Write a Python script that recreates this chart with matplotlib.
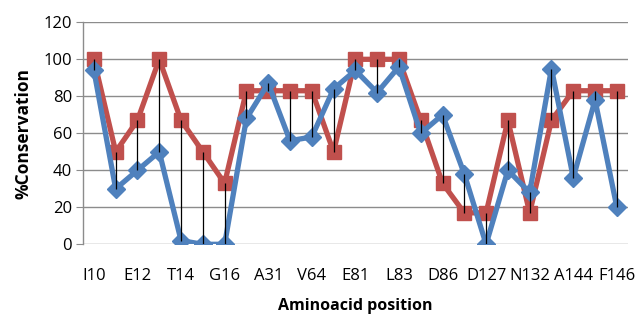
import matplotlib
matplotlib.use("Agg")
import matplotlib.pyplot as plt
import numpy as np

tick_labels = ["I10", "E12", "T14", "G16", "A31", "V64", "E81", "L83",
               "D86", "D127", "N132", "A144", "F146"]
blue_values = [94, 30, 40, 50, 2, 0, 0, 68, 87, 56, 58, 84, 94, 82, 96,
               60, 70, 38, 0, 40, 28, 95, 36, 78, 20]
red_values = [100, 50, 67, 100, 67, 50, 33, 83, 83, 83, 83, 50, 100, 100, 100,
              67, 33, 17, 17, 67, 17, 67, 83, 83, 83]

BLUE = "#4F81BD"
RED = "#C0504D"

plt.rcParams['font.family'] = ['Open Sans', 'DejaVu Sans']

fig = plt.figure(figsize=(6.36, 3.14), dpi=100)
ax = fig.add_axes([0.1305, 0.222, 0.987 - 0.1305, 0.929 - 0.222])

x = np.arange(len(blue_values))
# high-low lines
ax.vlines(x, np.minimum(blue_values, red_values), np.maximum(blue_values, red_values),
          color="black", lw=0.9, zorder=4)
ax.plot(x, blue_values, color=BLUE, lw=3.8, marker="D", ms=9,
        markerfacecolor=BLUE, markeredgecolor=BLUE, zorder=3)
ax.plot(x, red_values, color=RED, lw=3.8, marker="s", ms=10.5,
        markerfacecolor=RED, markeredgecolor=RED, zorder=2)

ax.set_xlim(-0.5, len(blue_values) - 0.5)
ax.set_ylim(0, 120)
ax.set_yticks(np.arange(0, 121, 20))
ax.set_xticks(x[::2])
ax.set_xticklabels(tick_labels)
ax.grid(axis="y", color="#8c8c8c", lw=1.0)
ax.set_axisbelow(True)
for s in ["top", "right", "bottom"]:
    ax.spines[s].set_visible(False)
ax.spines["left"].set_color("#8c8c8c")
ax.spines["left"].set_linewidth(1.0)
ax.tick_params(axis="y", length=5, color="#8c8c8c", labelsize=12, pad=3)
ax.tick_params(axis="x", length=0, labelsize=12, pad=17)

ax.set_ylabel("%Conservation", fontsize=12.5, fontweight="bold", labelpad=8)
ax.set_xlabel("Aminoacid position", fontsize=11.5, fontweight="bold", labelpad=10)

fig.savefig("out.png", dpi=100)
